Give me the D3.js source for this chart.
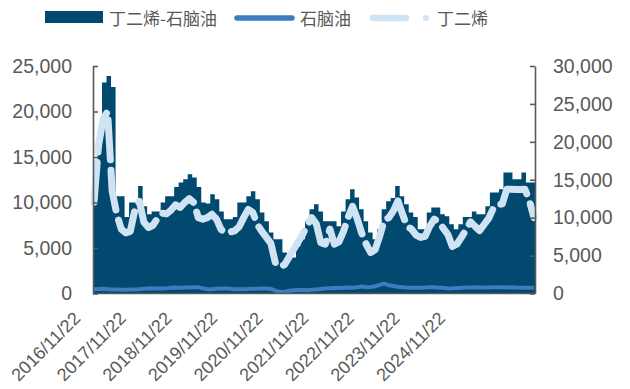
<!DOCTYPE html>
<html>
<head>
<meta charset="utf-8">
<script src="https://cdn.jsdelivr.net/npm/d3@7/dist/d3.min.js"></script>
<style>
  html, body { margin: 0; padding: 0; background: #fff; }
  svg { display: block; }
  text { font-family: "Liberation Sans", Arial, sans-serif; fill: #595959; }
  .cjk { font-family: "Noto Sans CJK SC", sans-serif; }
</style>
</head>
<body>
<svg id="chart" width="630" height="389"></svg>
<script>
// Series names
const seriesNames = ["丁二烯-石脑油", "石脑油", "丁二烯"];

// 丁二烯-石脑油 spread (left axis)
const spread = [
  10300, 16600, 23200, 23900, 22700, 10700, 10700, 8400, 10000, 10000,
  11800, 9600, 8700, 9000, 9000, 10000, 10700, 10700, 11700, 12200,
  12550, 13100, 12750, 11700, 10000, 9900, 10900, 10350, 9000, 8150,
  8150, 8400, 10000, 10000, 10700, 11250, 10350, 8900, 7950, 6700,
  5950, 5950, 4500, 4300, 3950, 5200, 5950, 7950, 9250, 9800,
  9000, 7950, 7950, 7950, 7400, 9000, 10350, 11450, 10550, 9250,
  7950, 6700, 5950, 7050, 9250, 10150, 10500, 11800, 10700, 9800,
  8900, 8400, 7050, 7050, 8900, 9450, 9450, 8700, 8500, 7600,
  7050, 7600, 8400, 8400, 9000, 8700, 8700, 9600, 11100, 11100,
  11450, 13300, 13300, 12550, 12550, 13300, 12200, 12200
];

// 石脑油 (left axis)
const naphtha = [
  470, 500, 510, 480, 450, 430, 420, 410, 430, 450,
  480, 520, 560, 580, 560, 560, 580, 620, 650, 640,
  660, 650, 680, 700, 560, 480, 470, 510, 540, 560,
  530, 470, 470, 480, 500, 510, 520, 560, 540, 500,
  320, 180, 200, 300, 360, 380, 380, 370, 400, 450,
  490, 540, 590, 600, 610, 640, 660, 640, 690, 760,
  700, 720, 800, 950, 1080, 900, 820, 740, 680, 650,
  640, 620, 640, 660, 700, 680, 640, 620, 560, 570,
  600, 620, 660, 660, 680, 660, 650, 670, 700, 700,
  680, 660, 680, 660, 640, 620, 620, 630
];

// 丁二烯 (right axis)
const butadiene = [
  12030, 19500, 23000, 24000, 13500, 10500, 8500, 8000, 8200, 11000,
  12150, 9400, 8700, 9000, 9900, 10600, 10500, 11000, 11700, 11350,
  12000, 12500, 12000, 10000, 9800, 10000, 10450, 9800, 8450, 8000,
  8100, 8250, 8800, 10000, 11100, 10700, 9100, 8200, 7400, 6600,
  4000, 3500, 3800, 4800, 5800, 6800, 7800, 9000, 10000, 9200,
  6700, 6500, 8500, 6500, 6800, 8200, 10000, 11500, 9900, 8000,
  6500, 5400, 5800, 7600, 9700, 10000, 10900, 12200, 10500, 8850,
  8500, 7700, 7400, 7550, 8850, 9800, 9500, 8600, 7800, 6200,
  6500, 7400, 8400, 9450, 8850, 8300, 9100, 9900, 11200, 11750,
  11800, 13750, 13750, 13700, 13700, 13750, 12200, 10000
];

// Axis ticks and category labels
const leftTicks = [0, 5000, 10000, 15000, 20000, 25000];
const rightTicks = [0, 5000, 10000, 15000, 20000, 25000, 30000];
const xLabels = ["2016/11/22", "2017/11/22", "2018/11/22", "2019/11/22", "2020/11/22",
                 "2021/11/22", "2022/11/22", "2023/11/22", "2024/11/22"];
const labelSpan = 9.69; // label intervals across the full category axis

const colors = { spread: "#01496f", naphtha: "#3e7cc0", butadiene: "#d0e3f3", axis: "#595959" };

const svg = d3.select("#chart");
const plot = { left: 93, right: 535, top: 66, bottom: 293.5 };
const N = spread.length;

const xBand = d3.scaleLinear().domain([0, N]).range([plot.left, plot.right]);
const xLine = d3.scaleLinear().domain([0, N - 1]).range([plot.left + 1, plot.right - 1]);
const xLabel = d3.scaleLinear().domain([0, labelSpan]).range([plot.left, plot.right]);
const yLeft = d3.scaleLinear().domain([0, 25000]).range([plot.bottom, plot.top]);
const yRight = d3.scaleLinear().domain([0, 30000]).range([plot.bottom, plot.top]);

// Spread as stepped columns
const area = d3.area()
  .curve(d3.curveStepAfter)
  .x(i => xBand(i))
  .y0(yLeft(0))
  .y1(i => yLeft(spread[Math.min(i, N - 1)]));
svg.append("path")
  .datum(d3.range(N + 1))
  .attr("d", area)
  .attr("fill", colors.spread);

// Naphtha line
svg.append("path")
  .datum(naphtha)
  .attr("d", d3.line().x((d, i) => xLine(i)).y(d => yLeft(d)))
  .attr("fill", "none")
  .attr("stroke", colors.naphtha)
  .attr("stroke-width", 4)
  .attr("stroke-linejoin", "round");

// Butadiene line, dashed
svg.append("path")
  .datum(butadiene)
  .attr("d", d3.line().x((d, i) => xLine(i)).y(d => yRight(d)))
  .attr("fill", "none")
  .attr("stroke", colors.butadiene)
  .attr("stroke-width", 7)
  .attr("stroke-linecap", "round")
  .attr("stroke-linejoin", "round")
  .attr("stroke-dasharray", "40 10.5");

// Left axis
const gL = svg.append("g")
  .attr("transform", `translate(${plot.left},0)`)
  .call(d3.axisLeft(yLeft).tickValues(leftTicks).tickFormat(d3.format(",")).tickSize(-5).tickSizeOuter(0).tickPadding(21));
// Right axis
const gR = svg.append("g")
  .attr("transform", `translate(${plot.right},0)`)
  .call(d3.axisRight(yRight).tickValues(rightTicks).tickFormat(d3.format(",")).tickSize(-5).tickSizeOuter(0).tickPadding(18));
// Category axis
const gB = svg.append("g")
  .attr("transform", `translate(0,${plot.bottom})`)
  .call(d3.axisBottom(xLabel).tickValues(d3.range(xLabels.length)).tickFormat(i => xLabels[i]).tickSize(0).tickSizeOuter(0));
gB.select(".domain").attr("d", `M${plot.left},0H${plot.right}`);

[gL, gR, gB].forEach(g => {
  g.select(".domain").attr("stroke", colors.axis).attr("stroke-width", 1.6);
  g.selectAll(".tick line").attr("stroke", colors.axis).attr("stroke-width", 1.6);
  g.selectAll("text").attr("font-size", 19.5).attr("fill", colors.axis)
    .attr("font-family", "'Liberation Sans', Arial, sans-serif");
});
gB.selectAll("text")
  .attr("font-size", 18)
  .attr("y", 0).attr("dy", 0)
  .attr("text-anchor", "end")
  .attr("transform", "translate(-12,26) rotate(-45)");

// Legend
const legend = svg.append("g");
legend.append("rect").attr("x", 45).attr("y", 11).attr("width", 58).attr("height", 12).attr("fill", colors.spread);
legend.append("text").attr("class", "cjk").attr("x", 109).attr("y", 24.5).attr("font-size", 17).text(seriesNames[0]);
legend.append("line").attr("x1", 237).attr("x2", 292).attr("y1", 18).attr("y2", 18)
  .attr("stroke", colors.naphtha).attr("stroke-width", 5.5).attr("stroke-linecap", "round");
legend.append("text").attr("class", "cjk").attr("x", 300).attr("y", 24.5).attr("font-size", 17).text(seriesNames[1]);
legend.append("line").attr("x1", 373).attr("x2", 406).attr("y1", 18).attr("y2", 18)
  .attr("stroke", colors.butadiene).attr("stroke-width", 6.5).attr("stroke-linecap", "round");
legend.append("circle").attr("cx", 426).attr("cy", 18).attr("r", 3).attr("fill", colors.butadiene);
legend.append("text").attr("class", "cjk").attr("x", 437).attr("y", 24.5).attr("font-size", 17).text(seriesNames[2]);
</script>
</body>
</html>
